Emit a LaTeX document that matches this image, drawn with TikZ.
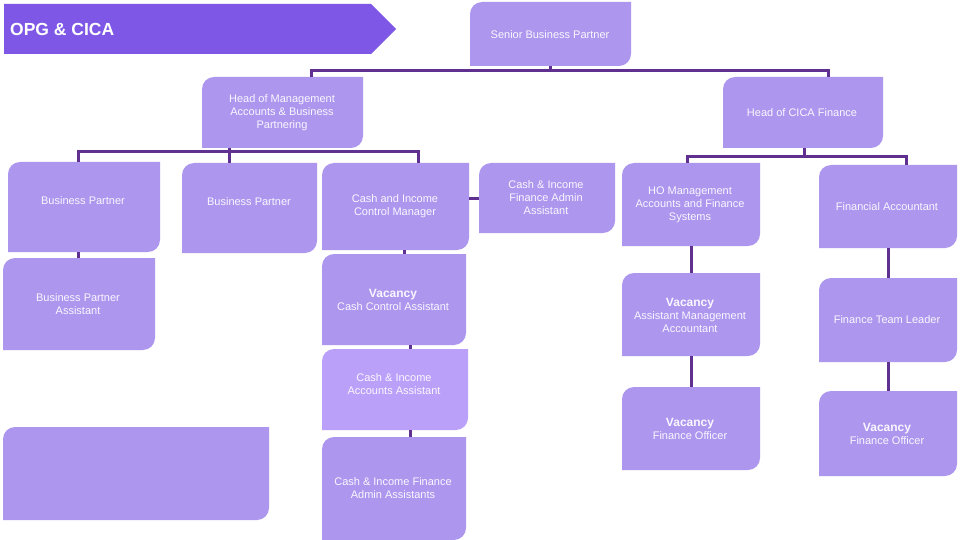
\documentclass[tikz,border=0pt]{standalone}
\usepackage{fontspec}
\setmainfont{Liberation Sans}
\definecolor{bannerc}{HTML}{7E57E6}
\definecolor{boxc}{HTML}{AD96EE}
\definecolor{boxlight}{HTML}{BBA0F9}
\definecolor{connc}{HTML}{5F3090}
\definecolor{txtc}{HTML}{FAF7FF}
\tikzset{
  orgshape/.style={inner sep=0pt, outer sep=0pt},
  txt/.style={text=txtc, font=\fontsize{11}{13}\selectfont, align=center, inner sep=0pt},
  conn/.style={draw=connc, line width=3pt},
}
\newcommand{\obox}[6]{%
  \fill[#6] (#2,#5) -- ({#2},{#3+12}) .. controls ({#2},{#3+5.4}) and ({#2+5.4},{#3}) .. ({#2+12},{#3})
    -- (#4,#3) -- ({#4},{#5-12}) .. controls ({#4},{#5-5.4}) and ({#4-5.4},{#5}) .. ({#4-12},{#5}) -- cycle;
  \node[orgshape, minimum width={(#4-#2)*1pt}, minimum height={(#5-#3)*1pt}]
    (#1) at ({(#2+#4)/2},{(#3+#5)/2}) {};}
\newcommand{\vac}{{\fontsize{12}{14}\selectfont\bfseries Vacancy}}
\begin{document}
\begin{tikzpicture}[x=1pt,y=-1pt]
\useasboundingbox (0,0) rectangle (960,540);
\fill[white] (0,0) rectangle (960,540);
% banner
\fill[bannerc] (4,4) -- (371,4) -- (396,29) -- (371,54) -- (4,54) -- cycle;
\node[anchor=west, text=white, font=\fontsize{17.5}{20}\selectfont\bfseries, inner sep=0pt] (title) at (10,29) {OPG \& CICA};
% boxes
\obox{sbp}{470}{2}{631}{66}{boxc}
\obox{hom}{202}{77}{363}{148}{boxc}
\obox{hocf}{723}{77}{883}{148}{boxc}
\obox{bp1}{8}{162}{160}{252}{boxc}
\obox{bp2}{182}{163}{317}{253}{boxc}
\obox{cicm}{322}{163}{469}{250}{boxc}
\obox{cifaa}{479}{163}{615}{233}{boxc}
\obox{ho}{622}{163}{760}{246}{boxc}
\obox{fa}{819}{165}{957}{248}{boxc}
\obox{bpa}{3}{258}{155}{350}{boxc}
\obox{vcca}{322}{254}{466}{345}{boxc}
\obox{vama}{622}{273}{760}{356}{boxc}
\obox{ftl}{819}{278}{957}{362}{boxc}
\obox{ciaa}{322}{349}{468}{430}{boxlight}
\obox{empty}{3}{427}{269}{520}{boxc}
\obox{vfo1}{622}{387}{760}{470}{boxc}
\obox{vfo2}{819}{391}{957}{476}{boxc}
\obox{cifaas}{322}{437}{466}{540}{boxc}
% texts
\node[txt] (sbp-t) at (550,35) {Senior Business Partner};
\node[txt] (hom-t) at (282,113) {Head of Management\\Accounts \& Business\\Partnering};
\node[txt] (hocf-t) at (802,113) {Head of CICA Finance};
\node[txt] (bp1-t) at (83,201) {Business Partner};
\node[txt] (bp2-t) at (249,202) {Business Partner};
\node[txt] (cicm-t) at (395,206) {Cash and Income\\Control Manager};
\node[txt] (cifaa-t) at (546,198) {Cash \& Income\\Finance Admin\\Assistant};
\node[txt] (ho-t) at (690,205) {HO Management\\Accounts and Finance\\Systems};
\node[txt] (fa-t) at (887,207) {Financial Accountant};
\node[txt] (bpa-t) at (78,304) {Business Partner\\Assistant};
\node[txt] (vcca-t) at (393,300) {\vac\\Cash Control Assistant};
\node[txt] (vama-t) at (690,315) {\vac\\Assistant Management\\Accountant};
\node[txt] (ftl-t) at (887,320) {Finance Team Leader};
\node[txt] (ciaa-t) at (394,384) {Cash \& Income\\Accounts Assistant};
\node[txt] (cifaas-t) at (393,488) {Cash \& Income Finance\\Admin Assistants};
\node[txt] (vfo1-t) at (690,429) {\vac\\Finance Officer};
\node[txt] (vfo2-t) at (887,434) {\vac\\Finance Officer};
% connectors
\draw[conn] (sbp.south) -- ++(0,5);
\draw[conn] ([xshift=109pt]hom.north west) -- ++(0,-6) -| ([xshift=105pt]hocf.north west);
\draw[conn] ([xshift=27pt]hom.south west) -- ([xshift=47pt]bp2.north west);
\draw[conn] ([xshift=70pt]bp1.north west) -- ++(0,-10) -| ([xshift=96pt]cicm.north west);
\draw[conn] ([xshift=70pt]bp1.south west) -- ([xshift=75pt]bpa.north west);
\draw[conn] (cifaa.west -| cicm.east) -- (cifaa.west);
\draw[conn] ([xshift=82pt]cicm.south west) -- ([xshift=82pt]vcca.north west);
\draw[conn] ([xshift=88pt]vcca.south west) -- ([xshift=88pt]ciaa.north west);
\draw[conn] ([xshift=88pt]ciaa.south west) -- ([xshift=88pt]cifaas.north west);
\draw[conn] ([xshift=81pt]hocf.south west) -- ++(0,9);
\draw[conn] ([xshift=65pt]ho.north west) -- ++(0,-6) -| ([xshift=87pt]fa.north west);
\draw[conn] (ho.south) -- (vama.north);
\draw[conn] (vama.south) -- (vfo1.north);
\draw[conn] (fa.south) -- (ftl.north);
\draw[conn] (ftl.south) -- (vfo2.north);
\end{tikzpicture}
\end{document}
